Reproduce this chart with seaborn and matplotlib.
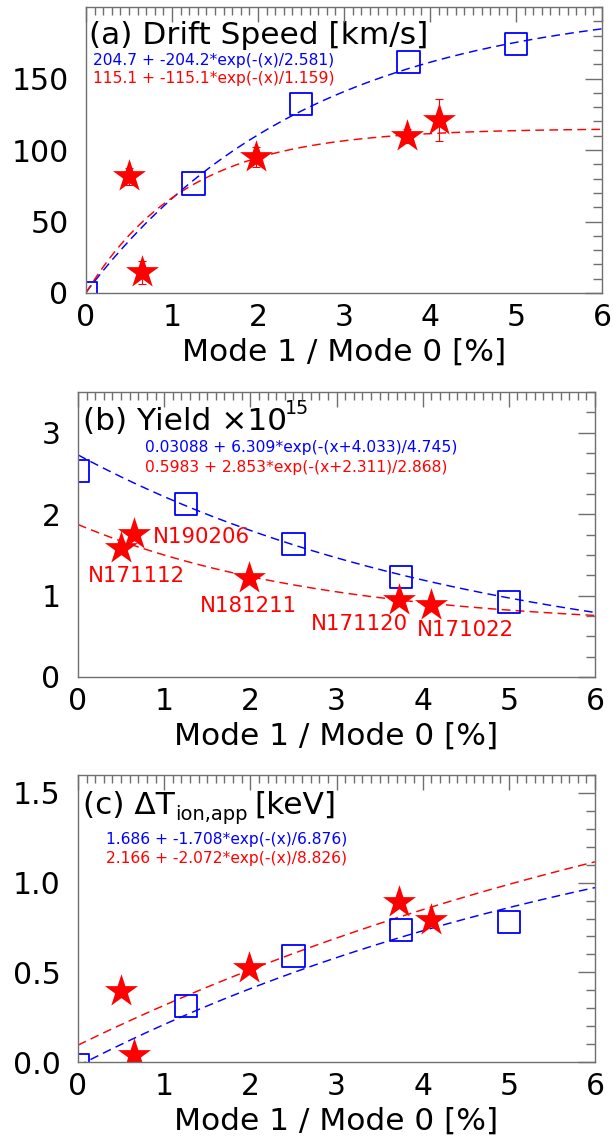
import numpy as np
import matplotlib
matplotlib.use("Agg")
import matplotlib.pyplot as plt
from matplotlib.ticker import MultipleLocator, FormatStrFormatter
import seaborn as sns

# ---- data -------------------------------------------------------------
# Mode 1 / Mode 0 ratio [%] for the two groups of points
square_x = [0.0, 1.25, 2.5, 3.75, 5.0]
star_x = [0.5, 0.65, 1.98, 3.73, 4.1]

# (a) drift speed [km/s]
speed_square = [0.0, 76.5, 132.0, 161.5, 174.0]
speed_star = [81.5, 14.5, 95.0, 110.0, 121.0]
speed_star_err = [6.0, 8.0, 7.0, 5.0, 15.0]

# (b) yield (x 1e15)
yield_square = [2.53, 2.12, 1.636, 1.226, 0.918]
yield_star = [1.59, 1.754, 1.215, 0.946, 0.89]
shot_names = ["N171112", "N190206", "N181211", "N171120", "N171022"]
shot_label_x = [0.68, 1.435, 1.977, 3.263, 4.495]
shot_label_y = [1.264, 1.747, 0.902, 0.677, 0.596]

# (c) apparent ion temperature change [keV]
dT_square = [-0.02, 0.313, 0.591, 0.735, 0.78]
dT_star = [0.394, 0.037, 0.524, 0.892, 0.79]

# exponential fits: a + b*exp(-(x+c)/d)
speed_fit_square = [204.7, -204.2, 0.0, 2.581]
speed_fit_star = [115.1, -115.1, 0.0, 1.159]
yield_fit_square = [0.03088, 6.309, 4.033, 4.745]
yield_fit_star = [0.5983, 2.853, 2.311, 2.868]
dT_fit_square = [1.686, -1.708, 0.0, 6.876]
dT_fit_star = [2.166, -2.072, 0.0, 8.826]

x_ticks = [0, 1, 2, 3, 4, 5, 6]
x_label = "Mode 1 / Mode 0 [%]"

# ---- style ------------------------------------------------------------
sns.set_style("white")
plt.rcParams["font.family"] = ["DejaVu Sans"]
plt.rcParams["mathtext.fontset"] = "dejavusans"
plt.rcParams["text.color"] = "black"
plt.rcParams["axes.labelcolor"] = "black"
plt.rcParams["xtick.labelcolor"] = "black"
plt.rcParams["ytick.labelcolor"] = "black"

BLUE = "#0000ff"
RED = "#ff0000"
GREY = "#6f6f6f"
W, H = 613, 1136

fig = plt.figure(figsize=(W / 100, H / 100), dpi=100)


def add_axes_px(left, top, right, bottom):
    return fig.add_axes([left / W, 1 - bottom / H, (right - left) / W, (bottom - top) / H])


def fit_curve(p, x):
    a, b, c, d = p
    return a + b * np.exp(-(x + c) / d)


def fit_text(p):
    a, b, c, d = p
    shift = "(x)" if c == 0 else f"(x+{c})"
    return f"{a} + {b}*exp(-{shift}/{d})"


def style_axes(ax, ylim, yticks, yminor, yfmt=None):
    ax.set_xlim(0, 6)
    ax.set_ylim(*ylim)
    ax.set_xticks(x_ticks)
    ax.xaxis.set_minor_locator(MultipleLocator(0.1))
    ax.set_yticks(yticks)
    ax.yaxis.set_minor_locator(MultipleLocator(yminor))
    if yfmt:
        ax.yaxis.set_major_formatter(FormatStrFormatter(yfmt))
    ax.tick_params(which="both", direction="in", top=True, right=True,
                   color=GREY, width=1.0, labelsize=21.5, labelcolor="black")
    ax.tick_params(axis="x", which="major", length=10.8, pad=7)
    ax.tick_params(axis="x", which="minor", length=6.1)
    ax.tick_params(axis="y", which="major", length=12.2, pad=12.6)
    ax.tick_params(axis="y", which="minor", length=6.5)
    for s in ax.spines.values():
        s.set_color(GREY)
        s.set_linewidth(1.0)
        s.set_zorder(6)
    ax.xaxis.set_zorder(6)
    ax.yaxis.set_zorder(6)
    ax.set_xlabel(x_label, fontsize=22.5, labelpad=4, color="black")
    ax.set_ylabel("")


xs = np.linspace(0, 6, 241)
DASH = (0, (6, 3.6))


def draw_panel(ax, y_sq, y_st, fit_sq, fit_st):
    sns.lineplot(x=xs, y=fit_curve(fit_sq, xs), ax=ax, color=BLUE, lw=1.05,
                 linestyle=DASH, estimator=None, zorder=2)
    sns.lineplot(x=xs, y=fit_curve(fit_st, xs), ax=ax, color=RED, lw=1.05,
                 linestyle=DASH, estimator=None, zorder=2)
    sns.scatterplot(x=square_x, y=y_sq, ax=ax, marker="s", s=16.0 ** 2, zorder=3)
    sq = ax.collections[-1]
    sq.set_facecolor("none")
    sq.set_edgecolor(BLUE)
    sq.set_linewidth(1.3)
    sns.scatterplot(x=star_x, y=y_st, ax=ax, marker="*", s=25.0 ** 2,
                    color=RED, linewidth=0, zorder=4)


def equations(ax, x, y_blue, y_red, fit_sq, fit_st):
    ax.text(x, y_blue, fit_text(fit_sq), transform=ax.transAxes, fontsize=11.2,
            color=BLUE, ha="left", va="center_baseline", zorder=5)
    ax.text(x, y_red, fit_text(fit_st), transform=ax.transAxes, fontsize=11.2,
            color=RED, ha="left", va="center_baseline", zorder=5)


BOX = dict(facecolor="white", edgecolor="none", pad=0)

# ---- (a) drift speed --------------------------------------------------
ax_a = add_axes_px(86, 7, 602, 293)
draw_panel(ax_a, speed_square, speed_star, speed_fit_square, speed_fit_star)
ax_a.errorbar(star_x, speed_star, yerr=speed_star_err, fmt="none", ecolor=RED,
              elinewidth=0.8, capsize=3, capthick=0.8, zorder=4.5)
style_axes(ax_a, (0, 200), [0, 50, 100, 150], 10)
ax_a.text(0.0062, 0.8696, "(a) Drift Speed [km/s]", transform=ax_a.transAxes,
          fontsize=22.5, color="black", ha="left", va="baseline", bbox=BOX, zorder=5)
equations(ax_a, 0.0126, 0.8175, 0.7535, speed_fit_square, speed_fit_star)

# ---- (b) yield ----------------------------------------------------------
ax_b = add_axes_px(78, 392, 595, 677)
draw_panel(ax_b, yield_square, yield_star, yield_fit_square, yield_fit_star)
style_axes(ax_b, (0, 3.5), [0, 1, 2, 3], 0.25)
t_b = ax_b.text(0.0093, 0.8667, "(b) Yield \u00d710", transform=ax_b.transAxes,
                fontsize=22.5, color="black", ha="left", va="baseline",
                bbox=BOX, zorder=5)
ax_b.annotate("15", xy=(1, 1), xycoords=t_b, xytext=(-1.5, 5.6),
              textcoords="offset points", fontsize=13.7, color="black",
              ha="left", va="top", zorder=5)
equations(ax_b, 0.130, 0.8095, 0.742, yield_fit_square, yield_fit_star)
for name, lx, ly in zip(shot_names, shot_label_x, shot_label_y):
    ax_b.text(lx, ly, name, fontsize=15.3, color=RED, ha="center",
              va="center_baseline", zorder=5)

# ---- (c) apparent ion temperature --------------------------------------
ax_c = add_axes_px(78, 775, 595, 1062)
draw_panel(ax_c, dT_square, dT_star, dT_fit_square, dT_fit_star)
style_axes(ax_c, (0, 1.6), [0.0, 0.5, 1.0, 1.5], 0.1, "%.1f")
t_c = ax_c.text(0.0093, 0.8641, "(c) \u0394T", transform=ax_c.transAxes,
                fontsize=22.5, color="black", ha="left", va="baseline",
                bbox=BOX, zorder=5)
t_sub = ax_c.annotate("ion,app", xy=(1, 0), xycoords=t_c, xytext=(0.5, 0),
                      textcoords="offset points", fontsize=14, color="black",
                      ha="left", va="baseline", zorder=5)
ax_c.annotate("[keV]", xy=(1, 0), xycoords=(t_sub, t_c), xytext=(4.7, 0),
              textcoords="offset points", fontsize=22.5, color="black",
              ha="left", va="bottom", zorder=5)
equations(ax_c, 0.0534, 0.781, 0.714, dT_fit_square, dT_fit_star)

fig.savefig("out.png", dpi=100)
